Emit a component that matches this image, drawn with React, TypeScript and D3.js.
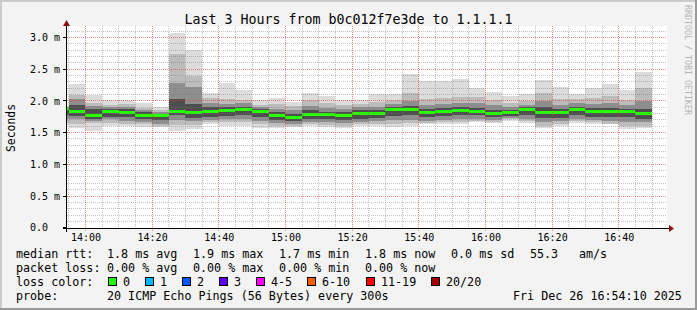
import React from 'react';
import * as d3 from 'd3';

// ---- data ----
// end time of each 5-minute step (step covers [end-5min, end])
const times = [
  '13:55', '14:00', '14:05', '14:10', '14:15', '14:20', '14:25', '14:30', '14:35',
  '14:40', '14:45', '14:50', '14:55', '15:00', '15:05', '15:10', '15:15', '15:20',
  '15:25', '15:30', '15:35', '15:40', '15:45', '15:50', '15:55', '16:00', '16:05',
  '16:10', '16:15', '16:20', '16:25', '16:30', '16:35', '16:40', '16:45', '16:50',
];
// smoke envelope levels in ms (max -> min)
const maxV = [1.92, 2.26, 2.10, 2.01, 2.02, 1.97, 1.91, 3.07, 2.80, 2.13, 2.28, 2.17, 2.01, 2.05, 1.98, 2.12, 2.08, 2.02, 2.02, 2.11, 2.11, 2.42, 2.31, 2.31, 2.35, 2.21, 2.14, 2.08, 2.11, 2.33, 2.22, 2.11, 2.21, 2.27, 2.17, 2.45];
const hiA = [1.90, 2.10, 1.97, 1.94, 1.95, 1.89, 1.86, 2.74, 2.40, 2.05, 2.03, 2.01, 1.94, 1.95, 1.92, 2.01, 1.96, 1.94, 1.95, 1.99, 2.01, 2.13, 2.03, 2.04, 2.06, 2.06, 2.01, 1.97, 2.00, 2.13, 2.03, 2.03, 2.04, 2.08, 2.01, 2.21];
const hiB = [1.89, 2.03, 1.92, 1.90, 1.91, 1.85, 1.83, 2.29, 2.22, 1.97, 1.95, 1.96, 1.90, 1.87, 1.85, 1.92, 1.89, 1.88, 1.90, 1.91, 1.95, 2.00, 1.94, 1.95, 1.97, 1.96, 1.93, 1.91, 1.94, 2.00, 1.94, 1.96, 1.95, 1.96, 1.93, 2.00];
const hiC = [1.89, 1.93, 1.87, 1.87, 1.88, 1.82, 1.80, 2.03, 1.95, 1.90, 1.90, 1.91, 1.87, 1.82, 1.79, 1.85, 1.83, 1.83, 1.85, 1.85, 1.90, 1.92, 1.88, 1.89, 1.90, 1.89, 1.86, 1.86, 1.90, 1.90, 1.87, 1.91, 1.89, 1.89, 1.88, 1.88];
const medV = [1.88, 1.83, 1.77, 1.83, 1.82, 1.77, 1.77, 1.83, 1.82, 1.83, 1.85, 1.86, 1.83, 1.77, 1.74, 1.78, 1.78, 1.77, 1.80, 1.80, 1.86, 1.86, 1.82, 1.84, 1.85, 1.83, 1.80, 1.81, 1.86, 1.81, 1.81, 1.86, 1.84, 1.83, 1.83, 1.80];
const loC = [1.78, 1.76, 1.72, 1.75, 1.74, 1.71, 1.70, 1.77, 1.73, 1.75, 1.76, 1.77, 1.75, 1.70, 1.68, 1.71, 1.71, 1.70, 1.72, 1.73, 1.76, 1.77, 1.75, 1.76, 1.77, 1.77, 1.74, 1.76, 1.77, 1.73, 1.73, 1.77, 1.75, 1.74, 1.74, 1.72];
const loB = [1.72, 1.71, 1.69, 1.71, 1.69, 1.66, 1.64, 1.70, 1.68, 1.70, 1.71, 1.71, 1.69, 1.65, 1.63, 1.67, 1.66, 1.65, 1.67, 1.68, 1.70, 1.70, 1.69, 1.70, 1.71, 1.72, 1.70, 1.73, 1.72, 1.67, 1.68, 1.72, 1.70, 1.68, 1.67, 1.66];
const loA = [1.67, 1.64, 1.65, 1.65, 1.64, 1.63, 1.61, 1.62, 1.62, 1.66, 1.66, 1.66, 1.63, 1.61, 1.60, 1.63, 1.62, 1.60, 1.63, 1.64, 1.64, 1.65, 1.65, 1.66, 1.67, 1.69, 1.67, 1.71, 1.68, 1.61, 1.63, 1.68, 1.66, 1.64, 1.60, 1.61];
const minV = [1.62, 1.57, 1.53, 1.60, 1.60, 1.59, 1.59, 1.52, 1.56, 1.63, 1.61, 1.61, 1.57, 1.57, 1.59, 1.61, 1.59, 1.57, 1.61, 1.61, 1.59, 1.60, 1.63, 1.63, 1.64, 1.66, 1.65, 1.69, 1.65, 1.57, 1.60, 1.65, 1.63, 1.63, 1.55, 1.57];

const xTickLabels = ['14:00', '14:20', '14:40', '15:00', '15:20', '15:40', '16:00', '16:20', '16:40'];
const yTickValues = [0, 0.5, 1.0, 1.5, 2.0, 2.5, 3.0];
const yTickLabels = ['0.0', '0.5 m', '1.0 m', '1.5 m', '2.0 m', '2.5 m', '3.0 m'];

const lossLabels = ['0', '1', '2', '3', '4-5', '6-10', '11-19', '20/20'];
const lossColors = ['#26ff00', '#00b8ff', '#0059ff', '#5e00ff', '#ff00ff', '#ff5e00', '#ff0000', '#a10000'];

const startTime = '13:54:10';
const endTime = '16:54:10';

// ---- layout / style ----
const W = 697, H = 310;
const FONT = "'DejaVu Sans Mono', monospace";
const toMin = (t: string) => {
  const p = t.split(':').map(Number);
  return p[0] * 60 + p[1] + (p[2] || 0) / 60;
};

export default function App() {
  const x = d3.scaleLinear().domain([toMin(startTime), toMin(endTime)]).range([66, 666]);
  const y = d3.scaleLinear().domain([0, 3.2]).range([227.7, 227.7 - 3.2 * 63.4]);
  const plotL = 67, plotR = 667, plotT = 26, plotB = 228;
  const pi = (v: number) => Math.floor(v);

  const bands = [
    { hi: maxV, lo: minV, c: '#dcdcdc' },
    { hi: hiA, lo: loA, c: '#bcbcbc' },
    { hi: hiB, lo: loB, c: '#8e8e8e' },
    { hi: hiC, lo: loC, c: '#4e4e4e' },
  ];

  const cols = times.map((t, i) => {
    const e = toMin(t);
    const s = Math.max(e - 5, toMin(startTime));
    return { i, x0: Math.max(plotL, Math.round(x(s))), x1: Math.round(x(e)) };
  });

  const minorY = d3.range(1, 32).map((k) => k / 10).filter((v) => Math.abs(v * 2 - Math.round(v * 2)) > 1e-6);
  const gridMins = times.map(toMin).filter((m) => m < toMin(endTime));
  const isMajor = (m: number) => Math.round(m) % 20 === 0;

  // dotted lines (1px on, 1px off)
  const hDots = (yy: number, key: string, color: string) => {
    const row = pi(yy);
    return <path key={key} d={d3.range(plotL, plotR, 2).map((xx) => `M${xx},${row}h1v1h-1z`).join('')} fill={color} />;
  };
  const vDots = (xx: number, key: string, color: string, y2: number) => {
    const col = pi(xx);
    return <path key={key} d={d3.range(plotT, y2, 2).map((yy) => `M${col},${yy}h1v1h-1z`).join('')} fill={color} />;
  };

  const legendRow1: [string, number][] = [
    ['median rtt:', 16], ['1.8 ms avg', 107], ['1.9 ms max', 193], ['1.7 ms min', 279],
    ['1.8 ms now', 365], ['0.0 ms sd', 451], ['55.3', 530], ['am/s', 579],
  ];
  const legendRow2: [string, number][] = [
    ['packet loss:', 16], ['0.00 % avg', 107], ['0.00 % max', 193], ['0.00 % min', 279], ['0.00 % now', 365],
  ];
  const swX = [108, 145, 182, 219, 256, 307, 366, 431];

  const minorCol = 'rgba(120,120,120,0.45)';
  const majorCol = 'rgba(232,50,50,0.6)';

  return (
    <svg width={W} height={H} style={{ position: 'absolute', left: 0, top: 0 }} fontFamily={FONT}>
      <rect x={0} y={0} width={W} height={H} fill="#f3f3f3" />
      {/* frame shading */}
      <rect x={0} y={0} width={W} height={2} fill="#cbcbcb" />
      <rect x={0} y={0} width={2} height={H} fill="#cbcbcb" />
      <rect x={0} y={H - 2} width={W} height={2} fill="#9a9a9a" />
      <rect x={W - 2} y={0} width={2} height={H} fill="#9a9a9a" />

      {/* canvas */}
      <rect x={plotL} y={plotT} width={plotR - plotL} height={plotB - plotT} fill="#ffffff" />

      {/* smoke */}
      <g shapeRendering="crispEdges">
        {bands.map((b, bi) => (
          <g key={bi}>
            {cols.map((c) => (
              <rect key={c.i} x={c.x0} width={c.x1 - c.x0}
                y={Math.round(y(b.hi[c.i]))} height={Math.round(y(b.lo[c.i])) - Math.round(y(b.hi[c.i]))} fill={b.c} />
            ))}
          </g>
        ))}
        {/* median */}
        {cols.map((c) => (
          <rect key={'m' + c.i} x={c.x0} width={c.x1 - c.x0} y={Math.round(y(medV[c.i]) - 1.5)} height={3} fill={lossColors[0]} />
        ))}
      </g>

      {/* grid (drawn over the data, semi-transparent) */}
      <g shapeRendering="crispEdges">
        {minorY.map((v) => hDots(y(v), 'mh' + v, minorCol))}
        {gridMins.filter((m) => !isMajor(m)).map((m) => vDots(x(m), 'mv' + m, minorCol, plotB + 2))}
        {yTickValues.slice(1).map((v) => hDots(y(v), 'Mh' + v, majorCol))}
        {gridMins.filter(isMajor).map((m) => vDots(x(m), 'Mv' + m, majorCol, plotB + 3))}
      </g>

      {/* axes */}
      <g shapeRendering="crispEdges">
        {yTickValues.map((v) => (
          <rect key={'yt' + v} x={63} y={pi(y(v))} width={4} height={1} fill="#000" />
        ))}
        <rect x={63} y={228} width={607} height={1} fill="#000" />
        <rect x={66} y={24} width={1} height={208} fill="#000" />
      </g>
      <path d="M669,225 L674,228.5 L669,232 Z" fill="#8b1010" />
      <path d="M63,26 L66.5,20 L70,26 Z" fill="#8b1010" />

      {/* y labels */}
      {yTickValues.map((v, i) => (
        <text key={'yl' + v} x={30} y={y(v) + 3.7} fontSize={10} fill="#000">{yTickLabels[i]}</text>
      ))}
      {/* x labels */}
      {xTickLabels.map((l) => (
        <text key={'xl' + l} x={x(toMin(l)) + 0.5} y={241} fontSize={10} textAnchor="middle" fill="#000">{l}</text>
      ))}

      {/* titles */}
      <text x={348.5} y={24} fontSize={13.3} textAnchor="middle" fill="#000">Last 3 Hours from b0c012f7e3de to 1.1.1.1</text>
      <text transform="translate(15,128) rotate(-90)" fontSize={11.4} textAnchor="middle" fill="#000">Seconds</text>
      <text transform="translate(685,5) rotate(90)" fontSize={8.3} fill="#b4b4b4">RRDTOOL / TOBI OETIKER</text>

      {/* legend */}
      <g fontSize={11.7} fill="#000" style={{ whiteSpace: 'pre' }}>
        {legendRow1.map(([t, lx]) => <text key={'r1' + t} x={lx} y={258}>{t}</text>)}
        {legendRow2.map(([t, lx]) => <text key={'r2' + t} x={lx} y={272}>{t}</text>)}
        <text x={16} y={286}>loss color:</text>
        {lossLabels.map((l, i) => (
          <g key={'lc' + l}>
            <rect x={swX[i] + 0.5} y={277.5} width={8} height={8} fill={lossColors[i]} stroke="#000" strokeWidth={1} />
            <text x={swX[i] + 15} y={286}>{l}</text>
          </g>
        ))}
        <text x={16} y={300}>probe:</text>
        <text x={107} y={300}>20 ICMP Echo Pings (56 Bytes) every 300s</text>
        <text x={513} y={300}>Fri Dec 26 16:54:10 2025</text>
      </g>
    </svg>
  );
}
